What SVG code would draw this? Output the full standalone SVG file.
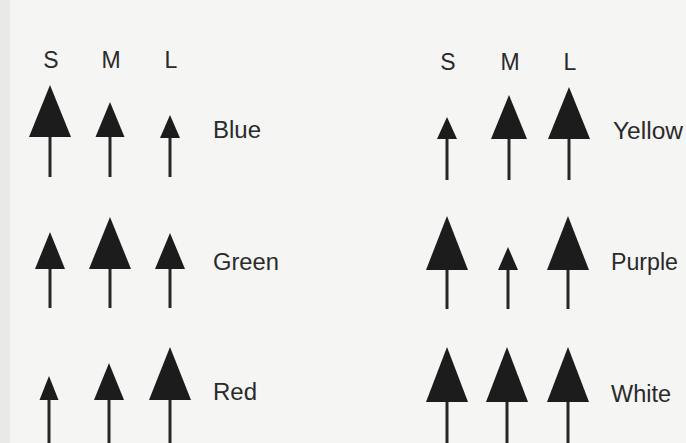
<svg xmlns="http://www.w3.org/2000/svg" width="686" height="443" viewBox="0 0 686 443">
<style>
.bg{fill:#f5f5f3}
.strip{fill:#e9e9e7}
.shaft{stroke:#262626;stroke-width:3;fill:none}
.head{fill:#1c1c1c}
.lbl{font-family:"Liberation Sans",Arial,sans-serif;font-size:23px;fill:#2a2a2a}
</style>
<rect class="bg" x="0" y="0" width="686" height="443"/>
<rect class="strip" x="0" y="0" width="10" height="443"/>

<g id="headers">
<text class="lbl" x="51" y="68" text-anchor="middle">S</text>
<text class="lbl" x="111" y="68" text-anchor="middle">M</text>
<text class="lbl" x="171" y="68" text-anchor="middle">L</text>
<text class="lbl" x="448" y="70" text-anchor="middle">S</text>
<text class="lbl" x="510" y="70" text-anchor="middle">M</text>
<text class="lbl" x="570" y="70" text-anchor="middle">L</text>
</g>

<g id="connectors">
<line class="shaft" x1="50" y1="135" x2="50" y2="177"/>
<line class="shaft" x1="110" y1="135" x2="110" y2="177"/>
<line class="shaft" x1="170" y1="135" x2="170" y2="177"/>
<line class="shaft" x1="50" y1="267" x2="50" y2="308"/>
<line class="shaft" x1="110" y1="267" x2="110" y2="308"/>
<line class="shaft" x1="170" y1="267" x2="170" y2="308"/>
<line class="shaft" x1="49" y1="398" x2="49" y2="443"/>
<line class="shaft" x1="109" y1="398" x2="109" y2="443"/>
<line class="shaft" x1="170" y1="398" x2="170" y2="443"/>
<line class="shaft" x1="447" y1="137" x2="447" y2="180"/>
<line class="shaft" x1="509" y1="137" x2="509" y2="180"/>
<line class="shaft" x1="569" y1="137" x2="569" y2="180"/>
<line class="shaft" x1="447" y1="268" x2="447" y2="309"/>
<line class="shaft" x1="508" y1="268" x2="508" y2="309"/>
<line class="shaft" x1="568" y1="268" x2="568" y2="309"/>
<line class="shaft" x1="447" y1="400" x2="447" y2="443"/>
<line class="shaft" x1="507" y1="400" x2="507" y2="443"/>
<line class="shaft" x1="568" y1="400" x2="568" y2="443"/>
</g>

<g id="blue">
<polygon class="head" points="50,85 71,137 29,137"/>
<polygon class="head" points="110,102 124.5,137 95.5,137"/>
<polygon class="head" points="170,115 180,138 160,138"/>
<text class="lbl" x="213" y="138" textLength="48" lengthAdjust="spacingAndGlyphs">Blue</text>
</g>

<g id="green">
<polygon class="head" points="50,232 65,269 35,269"/>
<polygon class="head" points="110,217 131,269 89,269"/>
<polygon class="head" points="170,233 185,269 155,269"/>
<text class="lbl" x="213" y="270" textLength="66" lengthAdjust="spacingAndGlyphs">Green</text>
</g>

<g id="red">
<polygon class="head" points="49,376 58.5,400 39.5,400"/>
<polygon class="head" points="109,363 124,400 94,400"/>
<polygon class="head" points="170,347 191,400 149,400"/>
<text class="lbl" x="213" y="400" textLength="44" lengthAdjust="spacingAndGlyphs">Red</text>
</g>

<g id="yellow">
<polygon class="head" points="447,117 457,139 437,139"/>
<polygon class="head" points="509,95 527,139 491,139"/>
<polygon class="head" points="569,87 590,139 548,139"/>
<text class="lbl" x="613" y="139" textLength="70" lengthAdjust="spacingAndGlyphs">Yellow</text>
</g>

<g id="purple">
<polygon class="head" points="447,216 468,270 426,270"/>
<polygon class="head" points="508,247 518,270 498,270"/>
<polygon class="head" points="568,216 589,270 547,270"/>
<text class="lbl" x="611" y="270" textLength="67" lengthAdjust="spacingAndGlyphs">Purple</text>
</g>

<g id="white">
<polygon class="head" points="447,347 468,402 426,402"/>
<polygon class="head" points="507,347 528,402 486,402"/>
<polygon class="head" points="568,347 589,402 547,402"/>
<text class="lbl" x="611" y="402" textLength="60" lengthAdjust="spacingAndGlyphs">White</text>
</g>
</svg>
